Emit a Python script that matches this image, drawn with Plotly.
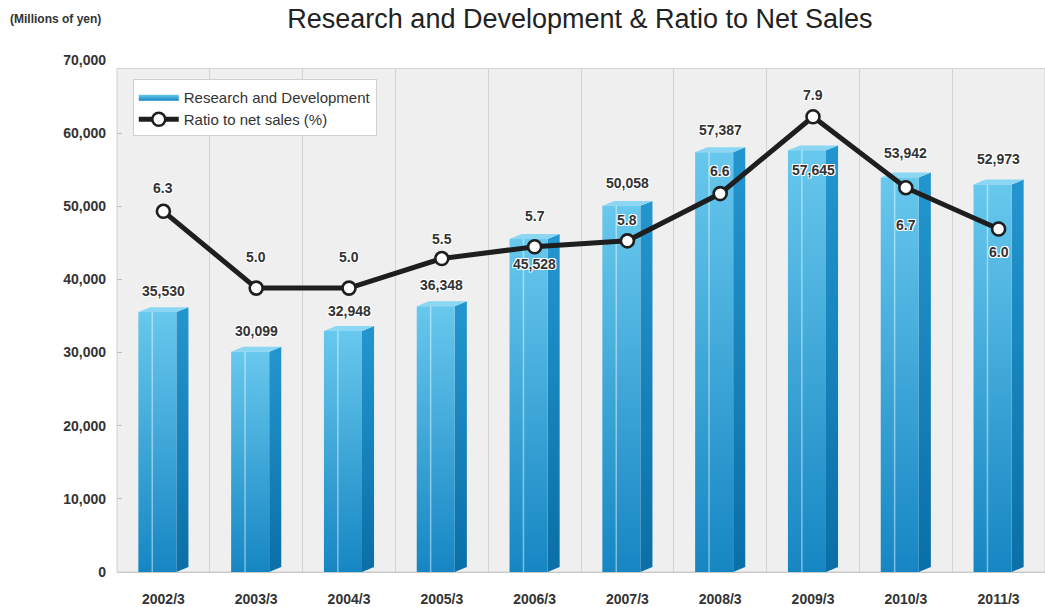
import plotly.graph_objects as go

# ---- data -------------------------------------------------------------
fiscal_years = ["2002/3", "2003/3", "2004/3", "2005/3", "2006/3",
                "2007/3", "2008/3", "2009/3", "2010/3", "2011/3"]
rd_spend = [35530, 30099, 32948, 36348, 45528, 50058, 57387, 57645, 53942, 52973]
sales_ratio = [6.3, 5.0, 5.0, 5.5, 5.7, 5.8, 6.6, 7.9, 6.7, 6.0]
yen_ticks = [0, 10000, 20000, 30000, 40000, 50000, 60000, 70000]

# ---- label placement (pixel offsets from each value) -------------------
rd_label_shift = [21, 21, 20, 21, -25, 23, 22, -20, 24, 26]
ratio_label_shift = [23, 31, 31, 20, 31, 21, 23, 22, -37, -23]

# ---- styling ----------------------------------------------------------
FONT = "Liberation Sans Narrow, Liberation Sans, Arial, sans-serif"
TXT = "#333333"
FRONT_L, FRONT_R, BACK_R = -0.27, 0.14, 0.27   # bar faces, in category units
DEPTH_X = BACK_R - FRONT_R
DEPTH_Y = 680                                   # top-face rise, in yen units
HALO = "1px 1px 0 #fff, -1px -1px 0 #fff, 1px -1px 0 #fff, -1px 1px 0 #fff"

fig = go.Figure()

# 3D-looking bars: side face, top face, front face
for i, v in enumerate(rd_spend):
    fig.add_trace(go.Scatter(
        x=[i + FRONT_R, i + BACK_R, i + BACK_R, i + FRONT_R, i + FRONT_R],
        y=[0, DEPTH_Y, v + DEPTH_Y, v, 0],
        fill="toself", mode="lines", line=dict(width=0),
        fillgradient=dict(type="vertical",
                          colorscale=[[0, "#0a6fa6"], [1, "#2496cf"]]),
        hoverinfo="skip", showlegend=False))
    fig.add_trace(go.Scatter(
        x=[i + FRONT_L, i + FRONT_R, i + BACK_R, i + FRONT_L + DEPTH_X, i + FRONT_L],
        y=[v, v, v + DEPTH_Y, v + DEPTH_Y, v],
        fill="toself", mode="lines", line=dict(width=0),
        fillcolor="#8bd7f3", hoverinfo="skip", showlegend=False))
    fig.add_trace(go.Scatter(
        x=[i + FRONT_L, i + FRONT_R, i + FRONT_R, i + FRONT_L, i + FRONT_L],
        y=[0, 0, v, v, 0],
        fill="toself", mode="lines", line=dict(width=0),
        fillgradient=dict(type="vertical",
                          colorscale=[[0, "#1686c3"], [1, "#68c8ed"]]),
        name="Research and Development", legendrank=1,
        showlegend=(i == 0), hoverinfo="skip"))
    # thin highlight streak on the front face
    fig.add_trace(go.Scatter(
        x=[i - 0.12, i - 0.12], y=[0, v], mode="lines",
        line=dict(color="rgba(255,255,255,0.45)", width=1.5),
        hoverinfo="skip", showlegend=False))

# ratio line on the secondary axis
fig.add_trace(go.Scatter(
    x=list(range(len(fiscal_years))), y=sales_ratio, yaxis="y2",
    mode="lines+markers", name="Ratio to net sales (%)", legendrank=2,
    line=dict(color="#1e1e1e", width=5),
    marker=dict(size=13, color="white", line=dict(color="#1e1e1e", width=2.6))))

annotations = []
for i, v in enumerate(rd_spend):
    annotations.append(dict(
        x=i, y=v, xref="x", yref="y", text=f"{v:,}", showarrow=False,
        yshift=rd_label_shift[i],
        font=dict(family=FONT, size=14, color=TXT, weight="bold", shadow=HALO)))
for i, r in enumerate(sales_ratio):
    annotations.append(dict(
        x=i, y=r, xref="x", yref="y2", text=f"{r:.1f}", showarrow=False,
        yshift=ratio_label_shift[i],
        font=dict(family=FONT, size=14, color=TXT, weight="bold", shadow=HALO)))
annotations.append(dict(
    x=-0.1175, y=1.0805, xref="paper", yref="paper", xanchor="left",
    yanchor="middle", text="(Millions of yen)", showarrow=False,
    font=dict(family=FONT, size=12, color=TXT, weight="bold")))

fig.update_layout(
    width=1045, height=607,
    margin=dict(l=117, r=0, t=60, b=32),
    paper_bgcolor="white", plot_bgcolor="white",
    title=dict(text="Research and Development & Ratio to Net Sales",
               x=0.555, xanchor="center", y=0.97, yanchor="middle",
               font=dict(family=FONT, size=27, color="#222222")),
    xaxis=dict(range=[-0.5, len(fiscal_years) - 0.5],
               tickmode="array", tickvals=list(range(len(fiscal_years))),
               ticktext=fiscal_years, showgrid=False, zeroline=False,
               ticks="", ticklabelstandoff=14,
               showline=True, linecolor="#c9c9c9", linewidth=1,
               tickfont=dict(family=FONT, size=14, color=TXT, weight="bold"),
               minor=dict(tick0=0.5, dtick=1, showgrid=True,
                          gridcolor="#d3d3d3", gridwidth=1, ticks="")),
    yaxis=dict(range=[0, 70000], tickvals=yen_ticks, tickformat=",d",
               showgrid=False, zeroline=False, ticks="inside", ticklen=5,
               tickcolor="#bdbdbd", ticklabelstandoff=10,
               tickfont=dict(family=FONT, size=14, color=TXT, weight="bold")),
    yaxis2=dict(range=[0.195, 8.861], overlaying="y", side="right",
                showgrid=False, zeroline=False, showticklabels=False, ticks=""),
    legend=dict(x=0.017, y=0.962, xanchor="left", yanchor="top",
                bgcolor="white", bordercolor="#d0d0d0", borderwidth=1,
                font=dict(family=FONT, size=15, color=TXT),
                tracegroupgap=2, itemwidth=40),
    shapes=[
        dict(type="rect", xref="paper", yref="paper", x0=0, x1=1, y0=0, y1=0.9835,
             fillcolor="#efefef", line=dict(color="#d0d0d0", width=1), layer="below"),
        dict(type="rect", xref="paper", yref="paper", x0=-0.002, x1=1, y0=0.9845, y1=1.01,
             fillcolor="white", line=dict(width=0), layer="above"),
    ],
    annotations=annotations,
)

fig.write_html("out.html")
